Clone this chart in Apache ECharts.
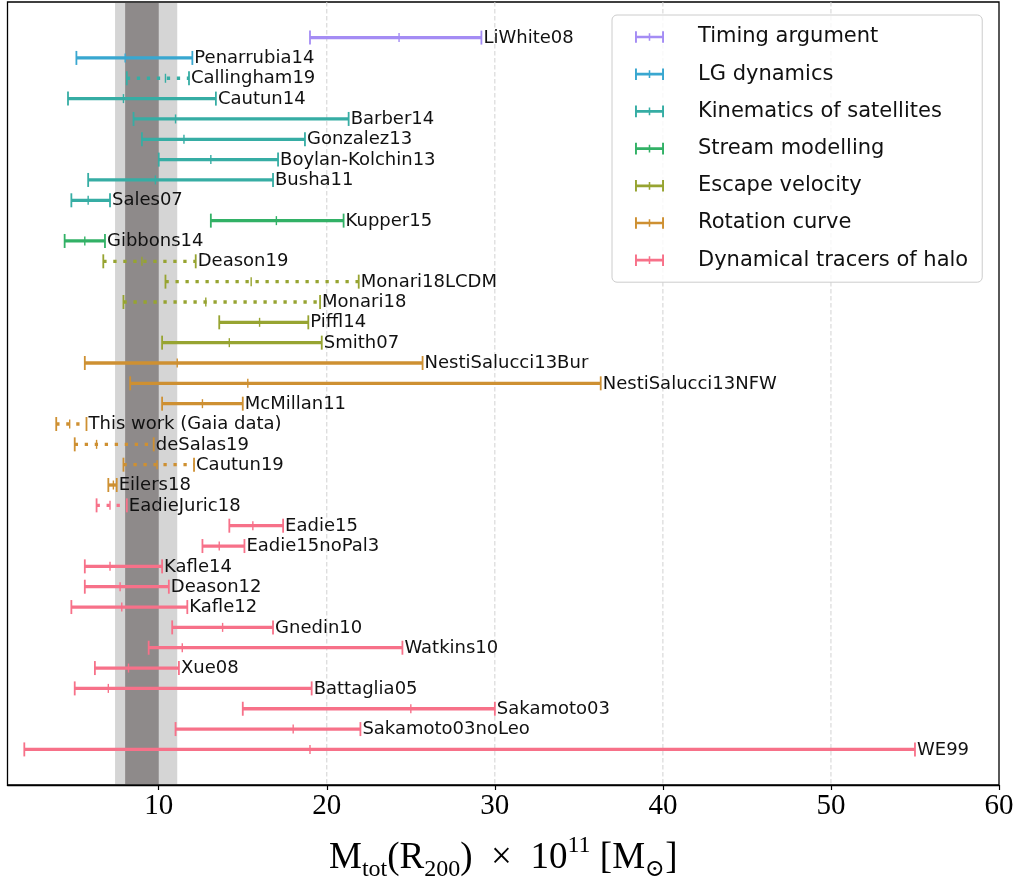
<!DOCTYPE html>
<html>
<head>
<meta charset="utf-8">
<script src="https://cdn.jsdelivr.net/npm/echarts@6/dist/echarts.min.js"></script>
<style>
  html, body { margin: 0; padding: 0; background: #fff; }
  #chart { width: 1026px; height: 882px; }
</style>
</head>
<body>
<div id="chart"></div>
<script>
// Milky Way halo mass estimates, M_tot(R200) in units of 1e11 Msun
const methods = [
  'Timing argument', 'LG dynamics', 'Kinematics of satellites', 'Stream modelling',
  'Escape velocity', 'Rotation curve', 'Dynamical tracers of halo'
];
const methodColors = ['#a48cf4', '#39a7d0', '#36ada4', '#32b166', '#97a431', '#ce9032', '#f77189'];

const studies = [
  'LiWhite08', 'Penarrubia14', 'Callingham19', 'Cautun14', 'Barber14', 'Gonzalez13',
  'Boylan-Kolchin13', 'Busha11', 'Sales07', 'Kupper15', 'Gibbons14', 'Deason19',
  'Monari18LCDM', 'Monari18', 'Piffl14', 'Smith07', 'NestiSalucci13Bur', 'NestiSalucci13NFW',
  'McMillan11', 'This work (Gaia data)', 'deSalas19', 'Cautun19', 'Eilers18', 'EadieJuric18',
  'Eadie15', 'Eadie15noPal3', 'Kafle14', 'Deason12', 'Kafle12', 'Gnedin10',
  'Watkins10', 'Xue08', 'Battaglia05', 'Sakamoto03', 'Sakamoto03noLeo', 'WE99'
];
const studyMethod = [
  0, 1, 2, 2, 2, 2,
  2, 2, 2, 3, 3, 4,
  4, 4, 4, 4, 5, 5,
  5, 5, 5, 5, 5, 6,
  6, 6, 6, 6, 6, 6,
  6, 6, 6, 6, 6, 6
];
const lower = [
  19.0, 5.1, 8.1, 4.6, 8.5, 9.0,
  10.0, 5.8, 4.8, 13.1, 4.4, 6.7,
  10.4, 7.9, 13.6, 10.2, 5.6, 8.3,
  10.2, 3.9, 5.0, 7.9, 7.0, 6.3,
  14.2, 12.6, 5.6, 5.6, 4.8, 10.8,
  9.4, 6.2, 5.0, 15.0, 11.0, 2.0
];
const central = [
  24.3, 8.0, 10.4, 7.9, 11.0, 11.5,
  13.1, 9.8, 5.8, 17.0, 5.6, 9.0,
  15.5, 12.8, 16.0, 14.2, 11.1, 15.3,
  12.6, 4.7, 6.3, 9.9, 7.3, 7.1,
  15.6, 13.6, 7.1, 7.7, 7.8, 13.8,
  11.4, 8.2, 7.0, 25.0, 18.0, 19.0
];
const upper = [
  29.2, 12.0, 11.8, 13.4, 21.3, 18.7,
  17.1, 16.8, 7.1, 21.0, 6.8, 12.2,
  21.9, 19.6, 18.9, 19.7, 25.7, 36.3,
  15.0, 5.7, 9.7, 12.1, 7.5, 8.1,
  17.4, 15.1, 10.2, 10.6, 11.7, 16.8,
  24.5, 11.2, 19.1, 30.0, 22.0, 55.0
];
const dottedStudies = [
  'Callingham19', 'Deason19', 'Monari18LCDM', 'Monari18',
  'This work (Gaia data)', 'deSalas19', 'Cautun19', 'EadieJuric18'
];

// reference mass ranges shaded behind the estimates
const lightBand = [7.4, 11.1];
const darkBand = [8.0, 10.0];
const gridValues = [20, 30, 40, 50];
const tickValues = [10, 20, 30, 40, 50, 60];

const chart = echarts.init(document.getElementById('chart'));

const errorIcon = 'path://M0,0h2v12h-2z M28,0h2v12h-2z M2,4.6h26v2.8h-26z M14.2,2h1.6v8h-1.6z';

function renderErrorBar(params, api) {
  const row = api.value(3);
  const lo = api.coord([api.value(0), row]);
  const mid = api.coord([api.value(1), row]);
  const hi = api.coord([api.value(2), row]);
  const y = lo[1];
  const color = api.visual('color');
  const dotted = api.value(4) === 1;
  return {
    type: 'group',
    children: [
      { type: 'line', shape: { x1: lo[0], y1: y, x2: hi[0], y2: y },
        style: { stroke: color, lineWidth: 3.3, lineDash: dotted ? [3.3, 6.7] : null, lineCap: 'butt' } },
      { type: 'line', shape: { x1: lo[0], y1: y - 7, x2: lo[0], y2: y + 7 },
        style: { stroke: color, lineWidth: 1.8 } },
      { type: 'line', shape: { x1: hi[0], y1: y - 7, x2: hi[0], y2: y + 7 },
        style: { stroke: color, lineWidth: 1.8 } },
      { type: 'line', shape: { x1: mid[0], y1: y - 4.5, x2: mid[0], y2: y + 4.5 },
        style: { stroke: color, lineWidth: 1.4 } },
      { type: 'text', style: { text: studies[row], x: hi[0] + 2, y: y + 0.5,
        align: 'left', verticalAlign: 'middle', fill: '#111',
        font: '18px "DejaVu Sans", sans-serif' } }
    ]
  };
}

const methodSeries = methods.map((name, m) => ({
  name: name,
  type: 'custom',
  z: 3,
  itemStyle: { color: methodColors[m] },
  encode: { x: [0, 1, 2], y: 3 },
  renderItem: renderErrorBar,
  data: studies
    .map((s, i) => [lower[i], central[i], upper[i], i, dottedStudies.includes(s) ? 1 : 0])
    .filter((d) => studyMethod[d[3]] === m)
}));

const gridLineSeries = {
  type: 'custom',
  z: 1,
  silent: true,
  renderItem: (params, api) => {
    const cs = params.coordSys;
    const x = api.coord([api.value(0), 0])[0];
    return { type: 'line', shape: { x1: x, y1: cs.y, x2: x, y2: cs.y + cs.height },
      style: { stroke: '#d2d2d2', lineWidth: 1, lineDash: [4.5, 2.5] } };
  },
  encode: { x: 0 },
  data: gridValues.map((v) => [v, 0])
};

const bandSeries = {
  type: 'custom',
  z: 2,
  silent: true,
  renderItem: (params, api) => {
    const cs = params.coordSys;
    const x0 = api.coord([api.value(0), 0])[0];
    const x1 = api.coord([api.value(1), 0])[0];
    return { type: 'rect', shape: { x: x0, y: cs.y + 1, width: x1 - x0, height: cs.height - 2 },
      style: { fill: api.value(2) === 1 ? '#8e8a8a' : '#d5d5d5' } };
  },
  encode: { x: [0, 1] },
  data: [[lightBand[0], lightBand[1], 0], [darkBand[0], darkBand[1], 1]]
};

const serif = '"Liberation Serif", "DejaVu Serif", serif';

chart.setOption({
  animation: false,
  color: methodColors,
  grid: {
    left: 7.5, right: 27, top: 2, bottom: 97,
    outerBoundsMode: 'none',
    containLabel: false,
    show: true, borderColor: '#000', borderWidth: 1.3, backgroundColor: '#fff'
  },
  legend: {
    orient: 'vertical',
    left: 612, top: 15,
    padding: [10, 14, 10, 23],
    itemGap: 13.2,
    itemWidth: 29, itemHeight: 12,
    backgroundColor: 'rgba(255,255,255,0.8)',
    borderColor: '#cccccc', borderWidth: 1, borderRadius: 5,
    textStyle: { fontFamily: '"DejaVu Sans", sans-serif', fontSize: 21, color: '#111',
      lineHeight: 24, padding: [0, 0, 0, 29] },
    data: methods.map((name) => ({ name: name, icon: errorIcon })),
    selectedMode: false
  },
  xAxis: {
    type: 'value',
    min: 1, max: 60,
    z: 10,
    axisLine: { show: true, onZero: false, lineStyle: { color: '#000', width: 1.3 } },
    axisTick: { show: true, customValues: tickValues, length: 5, lineStyle: { color: '#000', width: 1.2 } },
    axisLabel: { customValues: tickValues, fontFamily: serif, fontSize: 29, color: '#000', margin: 7 },
    splitLine: { show: false },
    name: '{a|M}{b|tot}{a|(R}{b|200}{a|)  ×  10}{c|11}{a| [M}{b|⊙}{a|]}',
    nameLocation: 'middle',
    nameGap: 49,
    nameTextStyle: {
      fontFamily: serif, color: '#000',
      rich: {
        a: { fontFamily: serif, fontSize: 37, lineHeight: 48, verticalAlign: 'middle', color: '#000' },
        b: { fontFamily: serif, fontSize: 24, lineHeight: 22, verticalAlign: 'bottom', color: '#000' },
        c: { fontFamily: serif, fontSize: 24, lineHeight: 22, verticalAlign: 'top', color: '#000' }
      }
    }
  },
  yAxis: {
    type: 'value',
    min: -1.75, max: 36.75,
    inverse: true,
    show: false
  },
  series: [gridLineSeries, bandSeries].concat(methodSeries)
});
</script>
</body>
</html>
